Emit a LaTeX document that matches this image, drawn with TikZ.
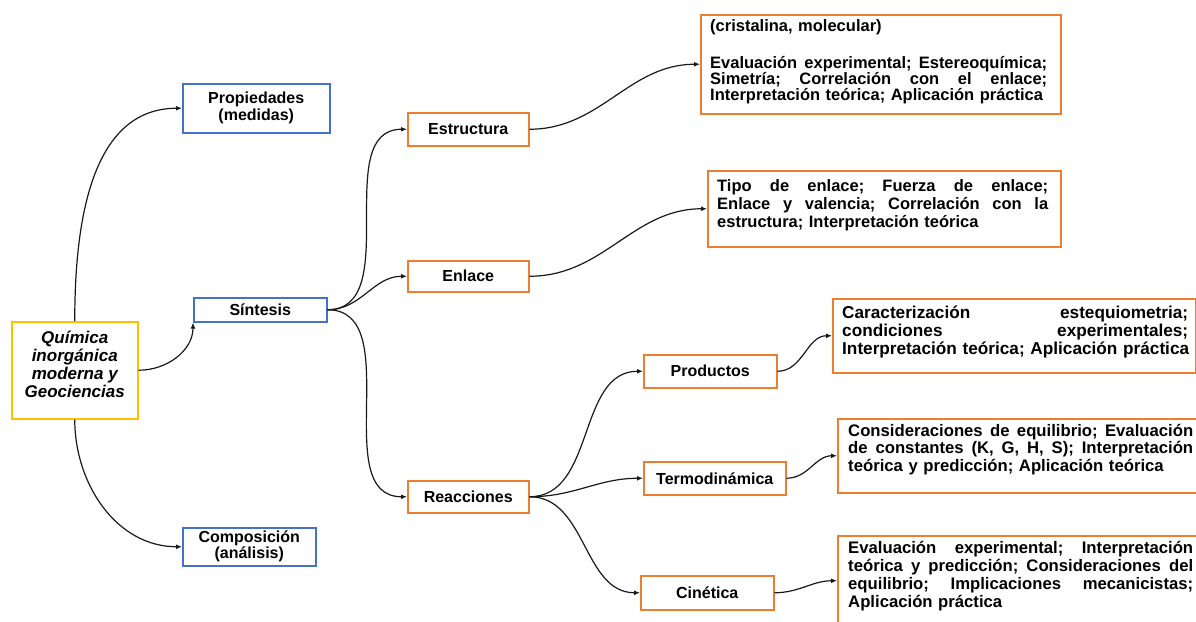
\documentclass[tikz,border=0pt]{standalone}
\usepackage{fontspec}
\setmainfont{Liberation Sans}
\usetikzlibrary{arrows.meta}
\definecolor{org}{HTML}{ED7D31}
\definecolor{blu}{HTML}{4472C4}
\definecolor{yel}{HTML}{FFC000}
\newcommand{\J}[2]{\leavevmode\hbox to #1{\frenchspacing\spaceskip=0.28em plus 1fil\relax #2}}
\begin{document}
\begin{tikzpicture}[x=1pt,y=-1pt,
 font=\bfseries\fontsize{16}{17}\selectfont,
 box/.style={draw, line width=1.5pt, inner sep=0pt, anchor=north west, align=center},
 obox/.style={box, draw=org},
 bbox/.style={box, draw=blu},
 txt/.style={anchor=north west, inner sep=0pt, align=left, text width=370pt},
 conn/.style={draw=black!90, line width=1.2pt, -{Latex[length=6pt,width=5pt]}},
]
\useasboundingbox (0,0) rectangle (1196,621);

% main node
\node[box, draw=yel, minimum width=126pt, minimum height=97pt] (main) at (11,321) {};
\node[inner sep=0pt, align=center, font=\bfseries\itshape\fontsize{17}{18}\selectfont]
      (mainlbl) at ([yshift=6pt]main.center)
      {Química\\inorgánica\\moderna y\\Geociencias};

% blue nodes
\node[bbox, minimum width=147pt, minimum height=49pt] (prop) at (182,83) {Propiedades\\(medidas)};
\node[bbox, minimum width=133pt, minimum height=24pt] (sint) at (193,297) {Síntesis};
\node[bbox, minimum width=133pt, minimum height=38pt, font=\bfseries\fontsize{16}{14}\selectfont] (comp) at (182,527) {Composición\\(análisis)};

% orange nodes
\node[obox, minimum width=121pt, minimum height=33pt] (estr) at (407,112) {Estructura};
\node[obox, minimum width=121pt, minimum height=31pt] (enl) at (407,260) {Enlace};
\node[obox, minimum width=121pt, minimum height=32pt] (reac) at (407,480) {Reacciones};
\node[obox, minimum width=133pt, minimum height=33pt] (prod) at (643,354) {Productos};
\node[obox, minimum width=142pt, minimum height=33pt] (term) at (643,461) {Termodinámica};
\node[obox, minimum width=133pt, minimum height=34pt] (cin) at (640,575) {Cinética};

% description boxes
\node[obox, minimum width=360pt, minimum height=99pt] (b1) at (700,14) {};
\node[txt, font=\bfseries\fontsize{16.5}{16}\selectfont] (t1) at (710,19)
 {(cristalina, molecular)\\[21pt]
  \J{337pt}{Evaluación experimental; Estereoquímica;}\\
  \J{337pt}{Simetría; Correlación con el enlace;}\\
  Interpretación teórica; Aplicación práctica};

\node[obox, minimum width=353pt, minimum height=76pt] (b2) at (707,170) {};
\node[txt, font=\bfseries\fontsize{16.5}{18}\selectfont] (t2) at (717,179)
 {\J{331pt}{Tipo de enlace; Fuerza de enlace;}\\
  \J{331pt}{Enlace y valencia; Correlación con la}\\
  estructura; Interpretación teórica};

\node[obox, minimum width=363pt, minimum height=74pt] (b3) at (832,298) {};
\node[txt, font=\bfseries\fontsize{17.2}{18}\selectfont] (t3) at (842,306)
 {\J{346pt}{Caracterización estequiometria;}\\
  \J{346pt}{condiciones experimentales;}\\
  Interpretación teórica; Aplicación práctica};

\node[obox, minimum width=360pt, minimum height=74pt] (b4) at (837,418) {};
\node[txt, font=\bfseries\fontsize{16.7}{17.5}\selectfont] (t4) at (848,424)
 {\J{345pt}{Consideraciones de equilibrio; Evaluación}\\
  \J{345pt}{de constantes (K, G, H, S); Interpretación}\\
  teórica y predicción; Aplicación teórica};

\node[obox, minimum width=360pt, minimum height=90pt] (b5) at (837,535) {};
\node[txt, font=\bfseries\fontsize{16.7}{18}\selectfont] (t5) at (848,541)
 {\J{345pt}{Evaluación experimental; Interpretación}\\
  \J{345pt}{teórica y predicción; Consideraciones del}\\
  \J{345pt}{equilibrio; Implicaciones mecanicistas;}\\
  Aplicación práctica};

% connectors
\draw[conn] (main.north) to[out=90,in=180] (prop.west);
\draw[conn] (main.south) to[out=-90,in=180] (comp.west);
\draw[conn] (main.east) to[out=0,in=-90] (sint.south west);
\draw[conn] (sint.east) to[out=0,in=180] (estr.west);
\draw[conn] (sint.east) to[out=0,in=180] (enl.west);
\draw[conn] (sint.east) to[out=0,in=180] (reac.west);
\draw[conn] (estr.east) to[out=0,in=180] (b1.west);
\draw[conn] (enl.east) to[out=0,in=180] (b2.west);
\draw[conn] (reac.east) to[out=0,in=180] (prod.west);
\draw[conn] (reac.east) to[out=0,in=180] (term.west);
\draw[conn] (reac.east) to[out=0,in=180] (cin.west);
\draw[conn] (prod.east) to[out=0,in=180] (b3.west);
\draw[conn] (term.east) to[out=0,in=180] (b4.west);
\draw[conn] (cin.east) to[out=0,in=180] (b5.west);
\end{tikzpicture}
\end{document}
